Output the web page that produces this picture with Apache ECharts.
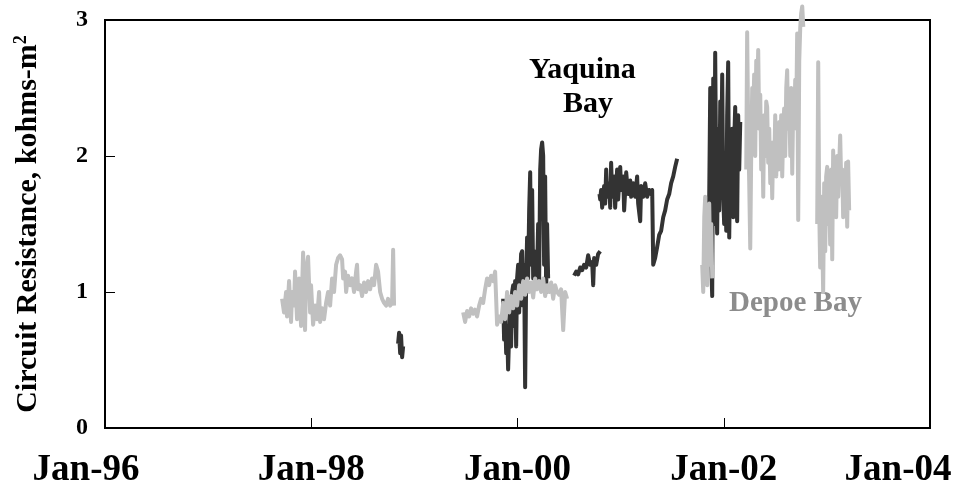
<!DOCTYPE html>
<html>
<head>
<meta charset="utf-8">
<script src="https://cdn.jsdelivr.net/npm/echarts@6/dist/echarts.min.js"></script>
<style>html,body{margin:0;padding:0;background:#fff;}#chart{width:966px;height:488px;}</style>
</head>
<body>
<div id="chart"></div>
<script>
// x values: years since Jan-1996; y values: circuit resistance (kohms-m2)
const xTickLabels = ['Jan-96', 'Jan-98', 'Jan-00', 'Jan-02', 'Jan-04'];
const yTickLabels = ['0', '1', '2', '3'];

const yaquina1998 = [[2.842,0.62],[2.852,0.70],[2.862,0.55],[2.871,0.68],[2.881,0.52],[2.891,0.60]];
const yaquina2000 = [[3.861,0.95],[3.870,0.65],[3.880,0.85],[3.890,0.55],[3.899,0.75],[3.909,0.43],[3.919,0.70],[3.929,0.90],[3.938,0.60],[3.948,1.00],[3.958,1.05],[3.967,0.75],[3.977,1.08],[3.987,0.60],[3.996,1.10],[4.006,1.20],[4.016,0.85],[4.026,1.10],[4.035,1.28],[4.045,1.30],[4.055,0.90],[4.064,1.20],[4.074,0.30],[4.084,1.10],[4.093,1.40],[4.103,1.10],[4.113,1.60],[4.123,1.88],[4.132,1.20],[4.142,1.75],[4.152,1.10],[4.161,1.30],[4.171,1.12],[4.181,1.10],[4.190,1.15],[4.200,1.50],[4.210,1.10],[4.220,1.90],[4.229,2.05],[4.239,2.10],[4.249,2.00],[4.258,1.20],[4.268,1.85],[4.278,1.00],[4.287,1.50],[4.297,1.10]];
const yaquina2000b = [[4.549,1.12],[4.569,1.15],[4.588,1.13],[4.608,1.18],[4.627,1.16],[4.646,1.20],[4.666,1.18],[4.685,1.27],[4.705,1.20],[4.724,1.22],[4.734,1.05],[4.743,1.25],[4.763,1.20],[4.782,1.28],[4.802,1.30]];
const yaquina2001 = [[4.795,1.72],[4.802,1.68],[4.811,1.75],[4.821,1.62],[4.840,1.78],[4.850,1.65],[4.860,1.90],[4.869,1.70],[4.889,1.80],[4.899,1.62],[4.908,1.95],[4.918,1.70],[4.937,1.85],[4.947,1.62],[4.966,1.90],[4.976,1.68],[4.996,1.92],[5.005,1.75],[5.025,1.85],[5.034,1.60],[5.054,1.88],[5.073,1.72],[5.093,1.82],[5.102,1.70],[5.122,1.80],[5.141,1.70],[5.160,1.85],[5.170,1.65],[5.190,1.52],[5.199,1.78],[5.219,1.70],[5.238,1.80],[5.257,1.70],[5.277,1.75],[5.296,1.72],[5.306,1.75],[5.316,1.20],[5.335,1.25],[5.354,1.33],[5.374,1.42],[5.393,1.45],[5.413,1.55],[5.432,1.60],[5.451,1.68],[5.471,1.72],[5.490,1.80],[5.510,1.85],[5.529,1.92],[5.548,1.98]];
const yaquina2002 = [[5.849,1.30],[5.859,1.70],[5.869,2.50],[5.879,1.20],[5.888,0.97],[5.898,2.57],[5.907,1.50],[5.917,2.76],[5.927,1.80],[5.936,1.43],[5.946,2.20],[5.956,1.60],[5.966,2.40],[5.975,1.90],[5.985,2.60],[5.995,1.70],[6.004,1.50],[6.014,2.00],[6.024,1.45],[6.033,2.30],[6.043,2.69],[6.053,1.40],[6.063,2.00],[6.072,1.60],[6.082,2.20],[6.092,1.55],[6.101,2.10],[6.111,2.36],[6.121,1.70],[6.130,1.52],[6.140,2.30],[6.150,1.90],[6.160,2.25]];

const depoe1998 = [[1.717,0.95],[1.736,0.85],[1.756,1.00],[1.765,0.82],[1.785,1.08],[1.804,0.78],[1.814,1.00],[1.833,0.90],[1.843,1.15],[1.862,0.80],[1.882,1.10],[1.901,0.75],[1.921,1.29],[1.940,0.72],[1.950,1.15],[1.969,1.26],[1.989,0.85],[1.998,1.05],[2.018,0.76],[2.037,0.90],[2.056,0.80],[2.076,1.00],[2.086,0.78],[2.105,0.88],[2.124,0.80],[2.144,0.92],[2.163,1.00],[2.183,0.90],[2.202,1.10],[2.221,1.00],[2.241,1.20],[2.260,1.25],[2.280,1.27],[2.299,1.24],[2.309,1.10],[2.328,1.15],[2.338,1.00],[2.357,1.12],[2.377,1.05],[2.396,1.10],[2.415,1.00],[2.435,1.15],[2.444,1.20],[2.454,1.02],[2.474,1.05],[2.493,0.97],[2.512,1.07],[2.532,1.00],[2.551,1.08],[2.571,1.02],[2.590,1.10],[2.609,1.05],[2.629,1.20],[2.648,1.15],[2.668,1.00],[2.687,0.95],[2.706,0.92],[2.726,0.90],[2.745,0.95],[2.765,0.90],[2.784,0.92],[2.794,1.31],[2.803,0.90]];
const depoe2000 = [[3.473,0.85],[3.492,0.78],[3.511,0.86],[3.531,0.82],[3.550,0.88],[3.570,0.84],[3.589,0.87],[3.608,0.82],[3.628,0.90],[3.647,0.95],[3.667,0.92],[3.686,1.02],[3.705,1.10],[3.725,1.05],[3.744,1.12],[3.764,1.08],[3.783,1.15],[3.793,0.95],[3.802,0.76],[3.822,0.82],[3.841,0.78],[3.861,0.92],[3.880,0.80],[3.899,1.00],[3.919,0.85],[3.938,0.97],[3.958,0.88],[3.977,1.00],[3.996,0.90],[4.016,1.05],[4.035,0.95],[4.055,1.08],[4.074,0.98],[4.093,1.10],[4.113,1.00],[4.132,1.07],[4.152,0.96],[4.171,1.10],[4.190,1.02],[4.210,1.08],[4.229,1.00],[4.249,1.10],[4.268,0.97],[4.287,1.05],[4.307,1.00],[4.326,1.07],[4.346,0.95],[4.365,1.05],[4.384,1.00],[4.404,0.98],[4.423,1.02],[4.443,0.72],[4.462,1.00],[4.481,0.95]];
const depoe2002a = [[5.791,1.20],[5.801,1.00],[5.811,1.55],[5.820,1.70],[5.830,1.30],[5.840,1.05],[5.849,1.45],[5.859,1.65],[5.869,1.20],[5.879,1.50],[5.888,1.10]];
const depoe2002b = [[6.218,1.90],[6.227,2.91],[6.237,2.20],[6.247,1.80],[6.257,1.32],[6.266,2.00],[6.276,2.50],[6.286,2.30],[6.295,2.60],[6.305,2.00],[6.315,2.70],[6.324,2.40],[6.334,2.78],[6.344,2.20],[6.354,2.45],[6.363,1.90],[6.373,2.20],[6.383,1.70],[6.392,2.30],[6.402,2.00],[6.412,2.40],[6.421,2.36],[6.431,1.95],[6.441,2.20],[6.451,1.80],[6.460,2.10],[6.470,1.69],[6.480,2.10],[6.489,1.90],[6.499,2.30],[6.509,1.85],[6.518,2.20],[6.528,1.90],[6.538,2.25],[6.548,2.00],[6.557,2.30],[6.567,1.85],[6.577,2.20],[6.586,2.35],[6.596,2.00],[6.606,2.50],[6.615,2.63],[6.625,2.20],[6.635,2.40],[6.645,2.00],[6.654,2.50],[6.664,1.87],[6.674,2.40],[6.683,2.20],[6.693,2.56],[6.703,2.30],[6.712,2.90],[6.722,1.53],[6.732,2.70],[6.742,2.95],[6.751,3.05],[6.761,3.10],[6.771,2.95]];
const depoe2003 = [[6.906,1.50],[6.916,2.69],[6.926,1.60],[6.935,1.18],[6.945,1.70],[6.955,1.40],[6.964,1.00],[6.974,1.80],[6.984,1.30],[6.993,1.85],[7.003,1.92],[7.013,1.50],[7.023,1.70],[7.032,1.35],[7.042,1.90],[7.052,1.24],[7.061,2.04],[7.071,1.60],[7.081,1.90],[7.090,1.55],[7.100,2.00],[7.110,1.70],[7.120,1.95],[7.129,2.15],[7.139,1.80],[7.149,1.90],[7.158,1.55],[7.168,1.80],[7.178,1.60],[7.187,1.95],[7.197,1.48],[7.206,1.96],[7.216,1.60]];

function joinSegments(segs) {
  const out = [];
  segs.forEach((s, i) => { if (i) out.push(['-', '-']); s.forEach(p => out.push(p)); });
  return out;
}

const serif = "'Liberation Serif', 'Times New Roman', serif";
const xFont = { fontFamily: serif, fontWeight: 'bold', fontSize: 37, color: '#000' };
const chart = echarts.init(document.getElementById('chart'), null, { renderer: 'canvas' });
chart.setOption({
  animation: false,
  backgroundColor: '#fff',
  grid: { left: 105, right: 36, top: 20, bottom: 60, show: true, borderColor: '#000', borderWidth: 2, backgroundColor: 'transparent', containLabel: false, outerBoundsMode: 'none' },
  xAxis: {
    type: 'value', min: 0, max: 8, interval: 2,
    axisLine: { show: true, onZero: false, lineStyle: { color: '#000', width: 2 } },
    axisTick: { show: true, inside: true, length: 10, lineStyle: { color: '#000', width: 1 } },
    splitLine: { show: false },
    axisLabel: {
      formatter: v => {
        const i = Math.round(v / 2);
        const k = i === 0 ? 'l' : (i === xTickLabels.length - 1 ? 'r' : 'a');
        return '{' + k + '|' + xTickLabels[i] + '}';
      },
      margin: 24,
      rich: {
        a: Object.assign({}, xFont),
        l: Object.assign({ padding: [0, 38, 0, 0] }, xFont),
        r: Object.assign({ padding: [0, 64, 0, 0] }, xFont)
      }
    }
  },
  yAxis: {
    type: 'value', min: 0, max: 3, interval: 1,
    axisLine: { show: true, lineStyle: { color: '#000', width: 2 } },
    axisTick: { show: true, inside: true, length: 10, lineStyle: { color: '#000', width: 1 } },
    splitLine: { show: false },
    axisLabel: {
      formatter: v => yTickLabels[Math.round(v)],
      fontFamily: serif, fontWeight: 'bold', fontSize: 24, color: '#000', margin: 17
    },
    name: '{t|Circuit Resistance, kohms-m}{s|2}',
    nameLocation: 'middle', nameRotate: 90, nameGap: 61,
    nameTextStyle: {
      rich: {
        t: { fontFamily: serif, fontWeight: 'bold', fontSize: 30, color: '#000' },
        s: { fontFamily: serif, fontWeight: 'bold', fontSize: 18, color: '#000', padding: [0, 0, 14, 0] }
      }
    }
  },
  series: [
    {
      name: 'Yaquina Bay', type: 'line', data: joinSegments([yaquina1998, yaquina2000, yaquina2000b, yaquina2001, yaquina2002]),
      showSymbol: false, symbol: 'none', connectNulls: false, clip: false,
      lineStyle: { color: '#333333', width: 4, join: 'round' }
    },
    {
      name: 'Depoe Bay', type: 'line', data: joinSegments([depoe1998, depoe2000, depoe2002a, depoe2002b, depoe2003]),
      showSymbol: false, symbol: 'none', connectNulls: false, clip: false,
      lineStyle: { color: '#c0c0c0', width: 4, join: 'round' }
    }
  ],
  graphic: [
    { type: 'text', left: 529, top: 55, style: { text: 'Yaquina', font: "bold 30px " + serif, fill: '#000' } },
    { type: 'text', left: 563, top: 89, style: { text: 'Bay', font: "bold 30px " + serif, fill: '#000' } },
    { type: 'text', left: 729, top: 289, style: { text: 'Depoe Bay', font: "bold 29px " + serif, fill: '#8c8c8c' } }
  ]
});
</script>
</body>
</html>
